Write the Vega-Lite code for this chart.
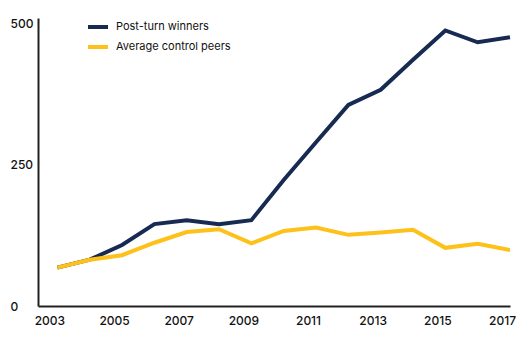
{
  "$schema": "https://vega.github.io/schema/vega-lite/v6.json",
  "width": 472,
  "height": 288,
  "autosize": {"type": "none"},
  "padding": {"left": 38, "top": 18, "right": 15, "bottom": 31},
  "background": "white",
  "config": {
    "view": {"stroke": null},
    "font": "Inter",
    "axis": {"grid": false, "ticks": false, "tickSize": 0, "domainColor": "#222222", "domainWidth": 2, "labelFont": "Inter", "labelFontSize": 12, "labelFontWeight": 500, "labelColor": "#111111", "title": null}
  },
  "data": {
    "values": [
      {"year": 2003, "series": "Post-turn winners", "value": 68},
      {"year": 2004, "series": "Post-turn winners", "value": 82},
      {"year": 2005, "series": "Post-turn winners", "value": 108},
      {"year": 2006, "series": "Post-turn winners", "value": 145},
      {"year": 2007, "series": "Post-turn winners", "value": 152},
      {"year": 2008, "series": "Post-turn winners", "value": 145},
      {"year": 2009, "series": "Post-turn winners", "value": 152},
      {"year": 2010, "series": "Post-turn winners", "value": 223},
      {"year": 2011, "series": "Post-turn winners", "value": 290},
      {"year": 2012, "series": "Post-turn winners", "value": 356},
      {"year": 2013, "series": "Post-turn winners", "value": 383},
      {"year": 2014, "series": "Post-turn winners", "value": 436},
      {"year": 2015, "series": "Post-turn winners", "value": 488},
      {"year": 2016, "series": "Post-turn winners", "value": 467},
      {"year": 2017, "series": "Post-turn winners", "value": 476},
      {"year": 2003, "series": "Average control peers", "value": 68},
      {"year": 2004, "series": "Average control peers", "value": 82},
      {"year": 2005, "series": "Average control peers", "value": 90},
      {"year": 2006, "series": "Average control peers", "value": 112},
      {"year": 2007, "series": "Average control peers", "value": 131},
      {"year": 2008, "series": "Average control peers", "value": 136},
      {"year": 2009, "series": "Average control peers", "value": 111},
      {"year": 2010, "series": "Average control peers", "value": 133},
      {"year": 2011, "series": "Average control peers", "value": 139},
      {"year": 2012, "series": "Average control peers", "value": 126},
      {"year": 2013, "series": "Average control peers", "value": 130},
      {"year": 2014, "series": "Average control peers", "value": 135},
      {"year": 2015, "series": "Average control peers", "value": 103},
      {"year": 2016, "series": "Average control peers", "value": 110},
      {"year": 2017, "series": "Average control peers", "value": 99}
    ]
  },
  "mark": {"type": "line", "strokeWidth": 4, "strokeJoin": "miter", "strokeCap": "butt"},
  "encoding": {
    "x": {
      "field": "year", "type": "quantitative",
      "scale": {"domain": [2002.4, 2017], "nice": false, "zero": false},
      "axis": {"values": [2003, 2005, 2007, 2009, 2011, 2013, 2015, 2017], "format": "d", "labelPadding": 9, "labelOffset": -8, "labelFlush": false}
    },
    "y": {
      "field": "value", "type": "quantitative",
      "scale": {"domain": [0, 510], "nice": false},
      "axis": {"values": [0, 250, 500], "labelAlign": "left", "labelPadding": 28, "labelBaseline": "middle"}
    },
    "color": {
      "field": "series", "type": "nominal",
      "scale": {"domain": ["Post-turn winners", "Average control peers"], "range": ["#172a52", "#fdc11a"]},
      "legend": {
        "title": null, "orient": "none", "legendX": 48, "legendY": -3, "padding": 0,
        "symbolType": "stroke", "symbolSize": 400, "symbolStrokeWidth": 4, "rowPadding": 0,
        "labelFont": "Inter", "labelFontSize": 11, "labelColor": "#111111", "labelOffset": 6
      }
    }
  }
}
